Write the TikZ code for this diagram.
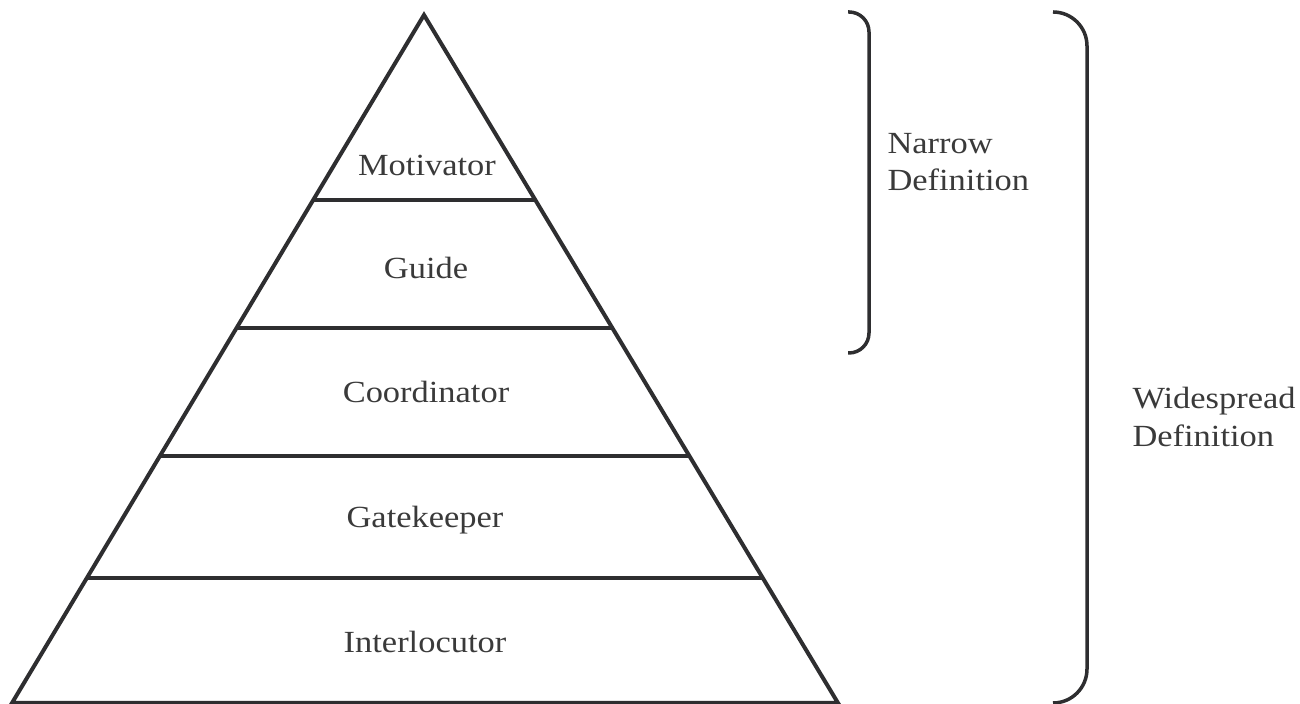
\documentclass[tikz,border=0pt]{standalone}
\usepackage{fontspec}
\setmainfont{Liberation Serif}[FakeStretch=1.12]
\usepackage{xcolor}
\usepackage{tikz}
\usetikzlibrary{calc,positioning}

\definecolor{inkgray}{HTML}{2E2E30}
\definecolor{txtgray}{HTML}{3A3A3A}

\tikzset{
  tier/.style={text=txtgray, font=\fontsize{12.3}{15}\selectfont},
  defn/.style={text=txtgray, font=\fontsize{12.3}{15}\selectfont, align=left, anchor=west, inner sep=0pt},
  edge/.style={draw=inkgray, line width=1.6pt},
  brace/.style={draw=inkgray, line width=1.4pt},
}

\begin{document}
\begin{tikzpicture}[x=0.4pt, y=0.4pt]
\useasboundingbox (0,0) rectangle (1300,704);

\coordinate(top) at (424,689);
\coordinate(bl) at (12,1);
\coordinate(br) at (838,1);

% outline of the pyramid
\draw[edge, line join=miter] (bl) -- (top) -- (br) -- cycle;

% tier separators
\coordinate(l1) at ($(top)!0.269!(bl)$);
\coordinate(r1) at ($(top)!0.269!(br)$);
\coordinate(l2) at ($(top)!0.455!(bl)$);
\coordinate(r2) at ($(top)!0.455!(br)$);
\coordinate(l3) at ($(top)!0.641!(bl)$);
\coordinate(r3) at ($(top)!0.641!(br)$);
\coordinate(l4) at ($(top)!0.818!(bl)$);
\coordinate(r4) at ($(top)!0.818!(br)$);

\draw[edge] (l1) -- (r1);
\draw[edge] (l2) -- (r2);
\draw[edge] (l3) -- (r3);
\draw[edge] (l4) -- (r4);

\node[tier](mot) at (427,539) {Motivator};
\node[tier](gui) at (426,436) {Guide};
\node[tier](coo) at (426,312) {Coordinator};
\node[tier](gat) at (425,184) {Gatekeeper};
\node[tier](int) at (425,62) {Interlocutor};

% brackets
\coordinate(nA) at (848,692);
\coordinate(nB) at (869,692);
\coordinate(nC) at (869,351);
\coordinate(nD) at (848,351);
\draw[brace, rounded corners=20*0.4pt] (nA) -- (nB) -- (nC) -- (nD);

\coordinate(wA) at (1053,692);
\coordinate(wB) at (1087,692);
\coordinate(wC) at (1087,1);
\coordinate(wD) at (1053,1);
\draw[brace, rounded corners=34*0.4pt] (wA) -- (wB) -- (wC) -- (wD);

\node[defn](narrow) at (887,542) {Narrow\\Definition};
\node[defn](wide) at (1132,287) {Widespread\\Definition};
\end{tikzpicture}
\end{document}
